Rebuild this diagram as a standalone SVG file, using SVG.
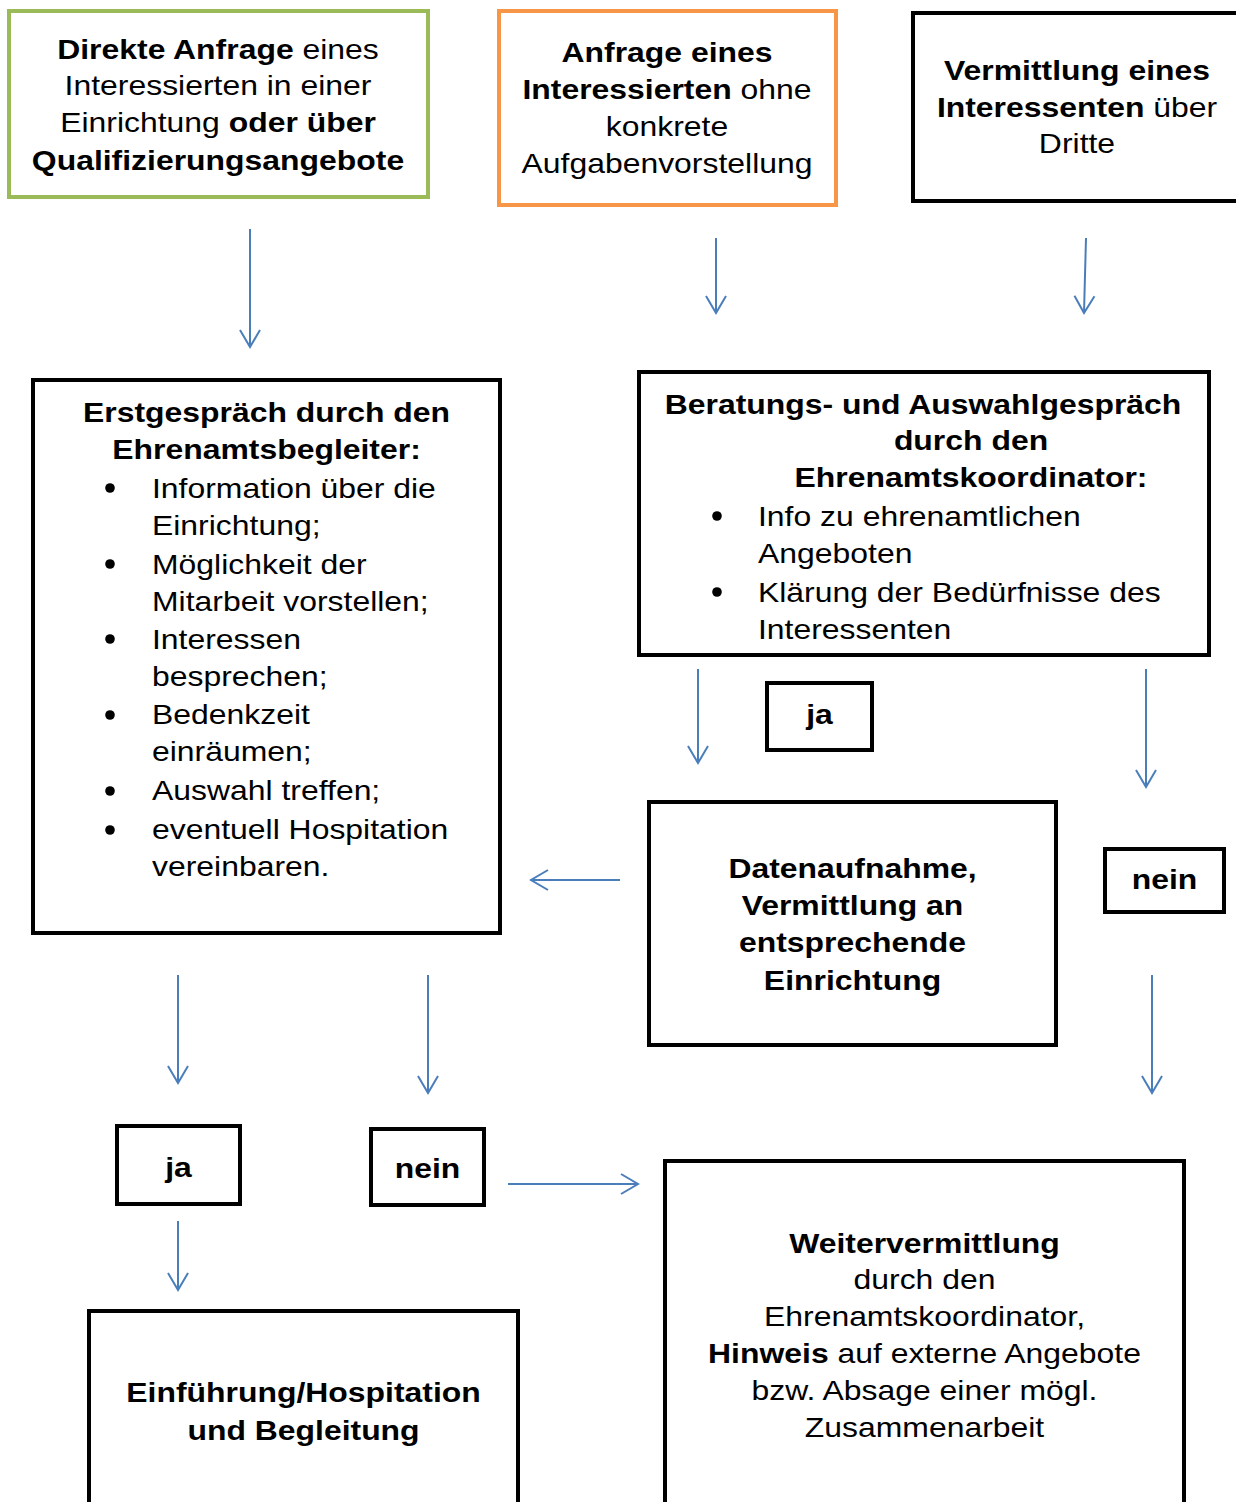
<svg xmlns="http://www.w3.org/2000/svg" width="1236" height="1502" viewBox="0 0 1236 1502">
<style>
  text { font-family: "Liberation Sans", Arial, sans-serif; font-size: 28.5px; fill: #000; }
  .c { text-anchor: middle; }
  .l { text-anchor: start; }
  .b { font-weight: bold; }
  .box { fill: #fff; stroke: #000; stroke-width: 4; }
  .conn line { stroke: #4A7EBB; stroke-width: 2; marker-end: url(#ah); }
</style>
<defs>
  <marker id="ah" markerWidth="22" markerHeight="24" refX="19" refY="12" orient="auto" markerUnits="userSpaceOnUse">
    <path d="M2,2 L19,12 L2,22" fill="none" stroke="#4A7EBB" stroke-width="2"/>
  </marker>
</defs>
<rect width="1236" height="1502" fill="#fff"/>

<g id="n1">
  <rect x="9" y="11" width="419" height="186" fill="#fff" stroke="#9BBB59" stroke-width="4"/>
  <text class="c" transform="translate(218 59) scale(1.12 1)"><tspan class="b">Direkte Anfrage</tspan> eines</text>
  <text class="c" transform="translate(218 95) scale(1.12 1)">Interessierten in einer</text>
  <text class="c" transform="translate(218 132) scale(1.12 1)">Einrichtung <tspan class="b">oder über</tspan></text>
  <text class="c b" transform="translate(218 170) scale(1.12 1)">Qualifizierungsangebote</text>
</g>

<g id="n2">
  <rect x="499" y="11" width="337" height="194" fill="#fff" stroke="#F79646" stroke-width="4"/>
  <text class="c b" transform="translate(667 62) scale(1.12 1)">Anfrage eines</text>
  <text class="c" transform="translate(667 99) scale(1.12 1)"><tspan class="b">Interessierten</tspan> ohne</text>
  <text class="c" transform="translate(667 136) scale(1.12 1)">konkrete</text>
  <text class="c" transform="translate(667 173) scale(1.12 1)">Aufgabenvorstellung</text>
</g>

<g id="n3">
  <rect x="913" y="13" width="340" height="188" class="box"/>
  <text class="c b" transform="translate(1077 80) scale(1.12 1)">Vermittlung eines</text>
  <text class="c" transform="translate(1077 117) scale(1.12 1)"><tspan class="b">Interessenten</tspan> über</text>
  <text class="c" transform="translate(1077 153) scale(1.12 1)">Dritte</text>
</g>

<g id="n4">
  <rect x="33" y="380" width="467" height="553" class="box"/>
  <text class="c b" transform="translate(266.5 422) scale(1.12 1)">Erstgespräch durch den</text>
  <text class="c b" transform="translate(266.5 459) scale(1.12 1)">Ehrenamtsbegleiter:</text>
  <circle cx="110" cy="488" r="4.8"/>
  <text class="l" transform="translate(152 498) scale(1.12 1)">Information über die</text>
  <text class="l" transform="translate(152 535) scale(1.12 1)">Einrichtung;</text>
  <circle cx="110" cy="564" r="4.8"/>
  <text class="l" transform="translate(152 574) scale(1.12 1)">Möglichkeit der</text>
  <text class="l" transform="translate(152 611) scale(1.12 1)">Mitarbeit vorstellen;</text>
  <circle cx="110" cy="639" r="4.8"/>
  <text class="l" transform="translate(152 649) scale(1.12 1)">Interessen</text>
  <text class="l" transform="translate(152 686) scale(1.12 1)">besprechen;</text>
  <circle cx="110" cy="715" r="4.8"/>
  <text class="l" transform="translate(152 724) scale(1.12 1)">Bedenkzeit</text>
  <text class="l" transform="translate(152 761) scale(1.12 1)">einräumen;</text>
  <circle cx="110" cy="791" r="4.8"/>
  <text class="l" transform="translate(152 800) scale(1.12 1)">Auswahl treffen;</text>
  <circle cx="110" cy="830" r="4.8"/>
  <text class="l" transform="translate(152 839) scale(1.12 1)">eventuell Hospitation</text>
  <text class="l" transform="translate(152 876) scale(1.12 1)">vereinbaren.</text>
</g>

<g id="n5">
  <rect x="639" y="372" width="570" height="283" class="box"/>
  <text class="c b" transform="translate(923 414) scale(1.12 1)">Beratungs- und Auswahlgespräch</text>
  <text class="c b" transform="translate(971 450) scale(1.12 1)">durch den</text>
  <text class="c b" transform="translate(971 487) scale(1.12 1)">Ehrenamtskoordinator:</text>
  <circle cx="717" cy="516" r="4.8"/>
  <text class="l" transform="translate(758 526) scale(1.12 1)">Info zu ehrenamtlichen</text>
  <text class="l" transform="translate(758 563) scale(1.12 1)">Angeboten</text>
  <circle cx="717" cy="592" r="4.8"/>
  <text class="l" transform="translate(758 602) scale(1.12 1)">Klärung der Bedürfnisse des</text>
  <text class="l" transform="translate(758 639) scale(1.12 1)">Interessenten</text>
</g>

<g id="n6">
  <rect x="767" y="683" width="105" height="67" class="box"/>
  <text class="c b" transform="translate(819.5 724) scale(1.12 1)">ja</text>
</g>

<g id="n7">
  <rect x="1105" y="849" width="119" height="63" class="box"/>
  <text class="c b" transform="translate(1164.5 889) scale(1.12 1)">nein</text>
</g>

<g id="n8">
  <rect x="649" y="802" width="407" height="243" class="box"/>
  <text class="c b" transform="translate(852.5 878) scale(1.12 1)">Datenaufnahme,</text>
  <text class="c b" transform="translate(852.5 915) scale(1.12 1)">Vermittlung an</text>
  <text class="c b" transform="translate(852.5 952) scale(1.12 1)">entsprechende</text>
  <text class="c b" transform="translate(852.5 990) scale(1.12 1)">Einrichtung</text>
</g>

<g id="n9">
  <rect x="117" y="1126" width="123" height="78" class="box"/>
  <text class="c b" transform="translate(178.5 1177) scale(1.12 1)">ja</text>
</g>

<g id="n10">
  <rect x="371" y="1129" width="113" height="76" class="box"/>
  <text class="c b" transform="translate(427.5 1178) scale(1.12 1)">nein</text>
</g>

<g id="n11">
  <rect x="89" y="1311" width="429" height="210" class="box"/>
  <text class="c b" transform="translate(303.5 1402) scale(1.12 1)">Einführung/Hospitation</text>
  <text class="c b" transform="translate(303.5 1440) scale(1.12 1)">und Begleitung</text>
</g>

<g id="n12">
  <rect x="665" y="1161" width="519" height="360" class="box"/>
  <text class="c b" transform="translate(924.5 1253) scale(1.12 1)">Weitervermittlung</text>
  <text class="c" transform="translate(924.5 1289) scale(1.12 1)">durch den</text>
  <text class="c" transform="translate(924.5 1326) scale(1.12 1)">Ehrenamtskoordinator,</text>
  <text class="c" transform="translate(924.5 1363) scale(1.12 1)"><tspan class="b">Hinweis</tspan> auf externe Angebote</text>
  <text class="c" transform="translate(924.5 1400) scale(1.12 1)">bzw. Absage einer mögl.</text>
  <text class="c" transform="translate(924.5 1437) scale(1.12 1)">Zusammenarbeit</text>
</g>

<g id="connectors" class="conn">
  <line x1="250" y1="229" x2="250" y2="347"/>
  <line x1="716" y1="238" x2="716" y2="313"/>
  <line x1="1086" y1="238" x2="1084" y2="313"/>
  <line x1="698" y1="669" x2="698" y2="763"/>
  <line x1="1146" y1="669" x2="1146" y2="787"/>
  <line x1="620" y1="880" x2="531" y2="880"/>
  <line x1="178" y1="975" x2="178" y2="1083"/>
  <line x1="428" y1="975" x2="428" y2="1093"/>
  <line x1="1152" y1="975" x2="1152" y2="1093"/>
  <line x1="178" y1="1221" x2="178" y2="1290"/>
  <line x1="508" y1="1184" x2="638" y2="1184"/>
</g>
</svg>
